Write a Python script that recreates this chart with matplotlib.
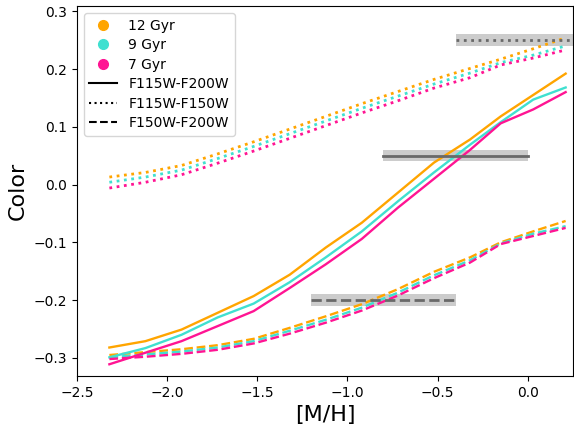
import numpy as np
import matplotlib
matplotlib.use('Agg')
import matplotlib.pyplot as plt
from matplotlib.lines import Line2D

# metallicity grid
mh = [-2.32, -2.12, -1.92, -1.72, -1.52, -1.32, -1.12, -0.92, -0.72, -0.52, -0.32, -0.15, 0.03, 0.21]

ages = ['12 Gyr', '9 Gyr', '7 Gyr']
colors = ['orange', 'turquoise', 'deeppink']

# F115W-F200W
c115_200 = {
    '12 Gyr': [-0.282, -0.271, -0.251, -0.222, -0.193, -0.156, -0.109, -0.066, -0.014, 0.038, 0.078, 0.118, 0.155, 0.192],
    '9 Gyr':  [-0.299, -0.283, -0.260, -0.230, -0.206, -0.169, -0.126, -0.081, -0.029, 0.021, 0.069, 0.108, 0.147, 0.168],
    '7 Gyr':  [-0.311, -0.291, -0.271, -0.245, -0.219, -0.179, -0.138, -0.094, -0.040, 0.010, 0.060, 0.106, 0.130, 0.160],
}
# F115W-F150W
c115_150 = {
    '12 Gyr': [0.013, 0.021, 0.033, 0.053, 0.074, 0.096, 0.118, 0.140, 0.161, 0.182, 0.201, 0.217, 0.235, 0.254],
    '9 Gyr':  [0.004, 0.013, 0.025, 0.045, 0.066, 0.088, 0.110, 0.132, 0.153, 0.174, 0.193, 0.211, 0.224, 0.240],
    '7 Gyr':  [-0.006, 0.004, 0.017, 0.037, 0.058, 0.080, 0.102, 0.124, 0.145, 0.167, 0.185, 0.207, 0.219, 0.233],
}
# F150W-F200W
c150_200 = {
    '12 Gyr': [-0.295, -0.290, -0.285, -0.278, -0.267, -0.248, -0.228, -0.207, -0.181, -0.151, -0.126, -0.100, -0.081, -0.063],
    '9 Gyr':  [-0.299, -0.294, -0.289, -0.282, -0.271, -0.253, -0.234, -0.213, -0.187, -0.157, -0.131, -0.102, -0.085, -0.072],
    '7 Gyr':  [-0.302, -0.298, -0.293, -0.286, -0.275, -0.258, -0.239, -0.218, -0.192, -0.162, -0.135, -0.103, -0.089, -0.075],
}

# observed colours (value, [M/H] range, linestyle)
obs_color = [0.05, 0.25, -0.20]
obs_range = [(-0.8, 0.0), (-0.4, 0.25), (-1.2, -0.4)]
obs_style = ['-', ':', '--']

fig = plt.figure(figsize=(5.74, 4.30), dpi=100)
ax = fig.add_axes([0.134, 0.126, 0.864, 0.860])

for age, col in zip(ages, colors):
    ax.plot(mh, c115_200[age], '-', color=col, lw=1.7)
    ax.plot(mh, c115_150[age], ':', color=col, lw=2)
    ax.plot(mh, c150_200[age], '--', color=col, lw=1.7)

for val, (x0, x1), ls in zip(obs_color, obs_range, obs_style):
    ax.fill_between([x0, x1], val - 0.01, val + 0.01, color='gray', alpha=0.4, lw=0)
    ax.plot([x0, x1], [val, val], ls, color='dimgray', lw=2)

ax.set_xlim(-2.5, 0.25)
ax.set_ylim(-0.331, 0.309)
ax.set_xlabel('[M/H]', fontsize=16)
ax.set_ylabel('Color', fontsize=16)

handles = [Line2D([], [], ls='none', marker='o', color=c, markersize=7, label=a)
           for a, c in zip(ages, colors)]
handles += [Line2D([], [], ls='-', color='k', label='F115W-F200W'),
            Line2D([], [], ls=':', color='k', label='F115W-F150W'),
            Line2D([], [], ls='--', color='k', label='F150W-F200W')]
ax.legend(handles=handles, loc='upper left', fontsize=10, labelspacing=0.4)

plt.savefig('out.png', dpi=100)
